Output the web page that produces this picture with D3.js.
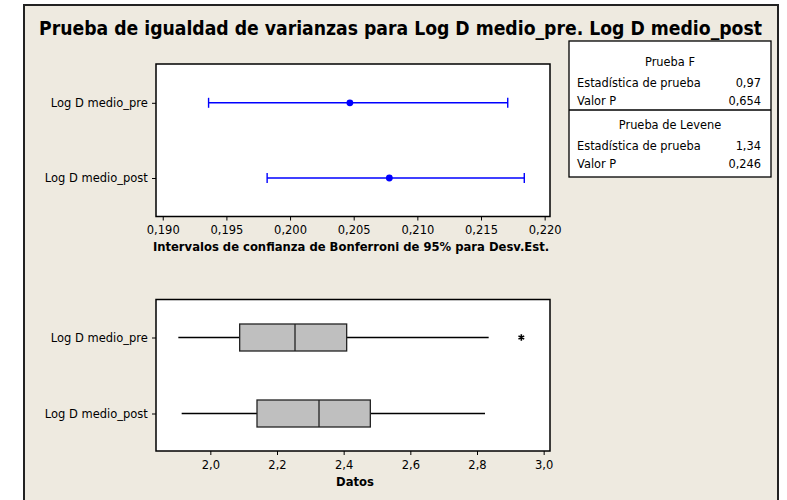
<!DOCTYPE html>
<html>
<head>
<meta charset="utf-8">
<script src="https://cdn.jsdelivr.net/npm/d3@7"></script>
<style>
  html, body { margin: 0; padding: 0; background: #ffffff; }
  svg { display: block; }
  text { font-family: "DejaVu Sans", Verdana, sans-serif; fill: #000; }
</style>
</head>
<body>
<div id="chart"></div>
<script>
// ---------------- data ----------------
const title = "Prueba de igualdad de varianzas para Log D medio_pre. Log D medio_post";
const categories = ["Log D medio_pre", "Log D medio_post"];

// Bonferroni 95% CI for StDev
const sdEstimate = [0.2047, 0.2078];
const sdLower    = [0.1936, 0.1982];
const sdUpper    = [0.2171, 0.2184];
const topTicks   = [0.190, 0.195, 0.200, 0.205, 0.210, 0.215, 0.220];
const topLabel   = "Intervalos de confianza de Bonferroni de 95% para Desv.Est.";

// Boxplot statistics
const whiskerLow  = [1.904, 1.914];
const q1          = [2.088, 2.140];
const median      = [2.254, 2.326];
const q3          = [2.409, 2.480];
const whiskerHigh = [2.835, 2.824];
const outliers    = [[2.933], []];
const bottomTicks = [2.0, 2.2, 2.4, 2.6, 2.8, 3.0];
const bottomLabel = "Datos";

// Test table
const testNames  = ["Prueba F", "Prueba de Levene"];
const statLabels = ["Estadística de prueba", "Valor P"];
const statValues = [["0,97", "0,654"], ["1,34", "0,246"]];

// ---------------- drawing ----------------
const W = 787, H = 500;
const svg = d3.select("#chart").append("svg").attr("width", W).attr("height", H);

const loc = d3.formatLocale({decimal: ",", thousands: ".", grouping: [3], currency: ["", ""]});
const fmt3 = loc.format(".3f"), fmt1 = loc.format(".1f");

// frame
svg.append("rect").attr("x", 24).attr("y", 5).attr("width", 754).attr("height", 500)
  .attr("fill", "#eeeae0").attr("stroke", "#222").attr("stroke-width", 2);

svg.append("text").attr("x", 39).attr("y", 35)
  .attr("font-size", 19).attr("font-weight", "bold")
  .style("font-family", "'DejaVu Sans Condensed', 'DejaVu Sans', sans-serif")
  .attr("textLength", 723).attr("lengthAdjust", "spacingAndGlyphs")
  .text(title);

// ---- top panel ----
const pTop = {x0: 156, x1: 550, y0: 64, y1: 216.5};
const xTop = d3.scaleLinear().domain([0.18947, 0.22042]).range([pTop.x0, pTop.x1]);
const yTop = d3.scalePoint().domain(categories).range([102.8, 178]);

svg.append("rect").attr("x", pTop.x0).attr("y", pTop.y0)
  .attr("width", pTop.x1 - pTop.x0).attr("height", pTop.y1 - pTop.y0)
  .attr("fill", "#fff").attr("stroke", "#000").attr("stroke-width", 1.5);

const gTop = svg.append("g");
const axTop = svg.append("g").attr("transform", `translate(0,${pTop.y1})`)
  .call(d3.axisBottom(xTop).tickValues(topTicks).tickFormat(fmt3).tickSize(4).tickSizeOuter(0));
const ayTop = svg.append("g").attr("transform", `translate(${pTop.x0},0)`)
  .call(d3.axisLeft(yTop).tickSize(4).tickSizeOuter(0));

categories.forEach((c, i) => {
  const y = yTop(c);
  gTop.append("line").attr("x1", xTop(sdLower[i])).attr("x2", xTop(sdUpper[i]))
    .attr("y1", y).attr("y2", y).attr("stroke", "#0000ff").attr("stroke-width", 1.4);
  [sdLower[i], sdUpper[i]].forEach(v => {
    gTop.append("line").attr("x1", xTop(v)).attr("x2", xTop(v))
      .attr("y1", y - 5).attr("y2", y + 5).attr("stroke", "#0000ff").attr("stroke-width", 1.4);
  });
  gTop.append("circle").attr("cx", xTop(sdEstimate[i])).attr("cy", y).attr("r", 3.4).attr("fill", "#0000ff");
});

svg.append("text").attr("x", (pTop.x0 + pTop.x1) / 2 - 2).attr("y", 251)
  .attr("text-anchor", "middle").attr("font-size", 11.6).attr("font-weight", "bold")
  .text(topLabel);

// ---- bottom panel ----
const pBot = {x0: 156, x1: 550, y0: 299.5, y1: 451};
const xBot = d3.scaleLinear().domain([1.837, 3.019]).range([pBot.x0, pBot.x1]);
const yBot = d3.scalePoint().domain(categories).range([337.5, 413.5]);

svg.append("rect").attr("x", pBot.x0).attr("y", pBot.y0)
  .attr("width", pBot.x1 - pBot.x0).attr("height", pBot.y1 - pBot.y0)
  .attr("fill", "#fff").attr("stroke", "#000").attr("stroke-width", 1.5);

const axBot = svg.append("g").attr("transform", `translate(0,${pBot.y1})`)
  .call(d3.axisBottom(xBot).tickValues(bottomTicks).tickFormat(fmt1).tickSize(4).tickSizeOuter(0));
const ayBot = svg.append("g").attr("transform", `translate(${pBot.x0},0)`)
  .call(d3.axisLeft(yBot).tickSize(4).tickSizeOuter(0));

const gBot = svg.append("g");
const bh = 27;
categories.forEach((c, i) => {
  const y = yBot(c);
  gBot.append("line").attr("x1", xBot(whiskerLow[i])).attr("x2", xBot(q1[i]))
    .attr("y1", y).attr("y2", y).attr("stroke", "#000").attr("stroke-width", 1.3);
  gBot.append("line").attr("x1", xBot(q3[i])).attr("x2", xBot(whiskerHigh[i]))
    .attr("y1", y).attr("y2", y).attr("stroke", "#000").attr("stroke-width", 1.3);
  gBot.append("rect").attr("x", xBot(q1[i])).attr("y", y - bh / 2)
    .attr("width", xBot(q3[i]) - xBot(q1[i])).attr("height", bh)
    .attr("fill", "#bfbfbf").attr("stroke", "#222").attr("stroke-width", 1.3);
  gBot.append("line").attr("x1", xBot(median[i])).attr("x2", xBot(median[i]))
    .attr("y1", y - bh / 2).attr("y2", y + bh / 2).attr("stroke", "#222").attr("stroke-width", 1.3);
  outliers[i].forEach(v => {
    gBot.append("path").attr("d", d3.symbol(d3.symbolAsterisk, 30)())
      .attr("transform", `translate(${xBot(v)},${y})`)
      .attr("fill", "none").attr("stroke", "#000").attr("stroke-width", 1.6);
  });
});

svg.append("text").attr("x", (pBot.x0 + pBot.x1) / 2 + 2).attr("y", 486)
  .attr("text-anchor", "middle").attr("font-size", 11.6).attr("font-weight", "bold")
  .text(bottomLabel);

// axis styling
[axTop, ayTop, axBot, ayBot].forEach(g => {
  g.select(".domain").remove();
  g.selectAll(".tick line").attr("stroke", "#000");
  g.selectAll(".tick text").attr("font-size", 11.5)
    .attr("font-family", "DejaVu Sans, Verdana, sans-serif").attr("fill", "#000");
});
[axTop, axBot].forEach(g => g.selectAll(".tick text").attr("dy", "0.95em"));
[ayTop, ayBot].forEach(g => g.selectAll(".tick text").attr("dx", "-0.1em"));

// ---- table ----
const tb = {x0: 569, x1: 771, y0: 41, y1: 177, mid: 110};
svg.append("rect").attr("x", tb.x0).attr("y", tb.y0)
  .attr("width", tb.x1 - tb.x0).attr("height", tb.y1 - tb.y0)
  .attr("fill", "#fff").attr("stroke", "#000").attr("stroke-width", 1.3);
svg.append("line").attr("x1", tb.x0).attr("x2", tb.x1).attr("y1", tb.mid).attr("y2", tb.mid)
  .attr("stroke", "#000").attr("stroke-width", 1.3);

const headY = [66, 128.5], rowY = [[86.5, 104.5], [149.5, 167.5]];
testNames.forEach((t, k) => {
  svg.append("text").attr("x", (tb.x0 + tb.x1) / 2).attr("y", headY[k])
    .attr("text-anchor", "middle").attr("font-size", 11.4).text(t);
  statLabels.forEach((s, j) => {
    svg.append("text").attr("x", 577).attr("y", rowY[k][j]).attr("font-size", 11.4).text(s);
    svg.append("text").attr("x", 761).attr("y", rowY[k][j]).attr("text-anchor", "end")
      .attr("font-size", 11.4).text(statValues[k][j]);
  });
});
</script>
</body>
</html>
